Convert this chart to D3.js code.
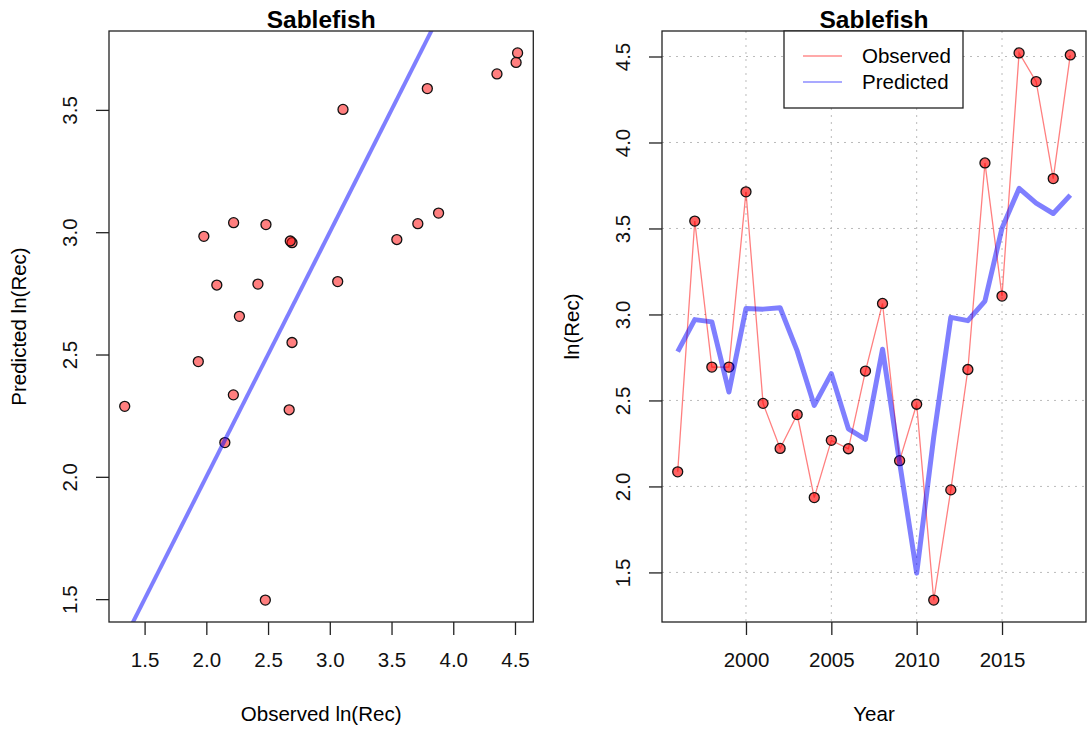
<!DOCTYPE html>
<html>
<head>
<meta charset="utf-8">
<script src="https://cdn.jsdelivr.net/npm/d3@7"></script>
<style>
  body { margin: 0; background: #fff; }
  svg { display: block; font-family: "Liberation Sans", Arial, Helvetica, sans-serif; }
  .tick line { stroke: #222; stroke-width: 1.3; }
  .tick text { fill: #111; font-size: 20.5px; }
</style>
</head>
<body>
<div id="chart"></div>
<script>
// recruitment series
const years = [1996, 1997, 1998, 1999, 2000, 2001, 2002, 2003, 2004, 2005, 2006, 2007,
               2008, 2009, 2010, 2011, 2012, 2013, 2014, 2015, 2016, 2017, 2018, 2019];
const observed = [2.085, 3.543, 2.694, 2.694, 3.713, 2.483, 2.221, 2.418, 1.935, 2.268, 2.219, 2.671,
                  3.064, 2.150, 2.478, 1.339, 1.980, 2.680, 3.881, 3.107, 4.521, 4.354, 3.790, 4.509];
const predicted = [2.784, 2.970, 2.957, 2.549, 3.035, 3.031, 3.039, 2.788, 2.471, 2.656, 2.335, 2.274,
                   2.798, 2.140, 1.496, 2.288, 2.983, 2.964, 3.078, 3.502, 3.733, 3.647, 3.587, 3.694];

const recTicks = [1.5, 2.0, 2.5, 3.0, 3.5, 4.0, 4.5];
const predTicks = [1.5, 2.0, 2.5, 3.0, 3.5];
const yearTicks = [2000, 2005, 2010, 2015];
const seriesNames = ["Observed", "Predicted"];
const title = "Sablefish";

const width = 1089, height = 729;
const data = years.map((y, i) => ({ year: y, obs: observed[i], pred: predicted[i] }));

// R-style axis range: data extent padded by 4%
function rRange(values) {
  const [lo, hi] = d3.extent(values);
  const pad = (hi - lo) * 0.04;
  return [lo - pad, hi + pad];
}

const svg = d3.select("#chart").append("svg")
  .attr("width", width)
  .attr("height", height);

svg.append("rect").attr("width", width).attr("height", height).attr("fill", "#fff");

const redFill = "rgba(255,0,0,0.5)";
const blueLine = "rgba(0,0,255,0.5)";

function drawFrame(g, x0, x1, y0, y1, titleText, xLab, yLab) {
  g.append("rect")
    .attr("x", x0).attr("y", y0)
    .attr("width", x1 - x0).attr("height", y1 - y0)
    .attr("fill", "none").attr("stroke", "#222").attr("stroke-width", 1.3);

  g.append("text")
    .attr("x", (x0 + x1) / 2).attr("y", 28)
    .attr("text-anchor", "middle")
    .style("font-size", "24.5px").style("font-weight", "bold")
    .text(titleText);

  g.append("text")
    .attr("x", (x0 + x1) / 2).attr("y", 721)
    .attr("text-anchor", "middle")
    .style("font-size", "20.5px")
    .text(xLab);

  g.append("text")
    .attr("transform", `translate(${x0 - 83},${(y0 + y1) / 2}) rotate(-90)`)
    .attr("text-anchor", "middle")
    .style("font-size", "20.5px")
    .text(yLab);
}

function drawAxes(g, x, y, xTicks, yTicks, fmtX) {
  const yBottom = d3.max(y.range());
  const xLeft = d3.min(x.range());

  g.append("g")
    .attr("transform", `translate(0,${yBottom})`)
    .call(d3.axisBottom(x).tickValues(xTicks).tickFormat(fmtX).tickSize(13).tickSizeOuter(0).tickPadding(17))
    .call((a) => a.select(".domain").remove());

  g.append("g")
    .attr("transform", `translate(${xLeft},0)`)
    .call(d3.axisLeft(y).tickValues(yTicks).tickFormat(d3.format(".1f")).tickSize(13).tickSizeOuter(0))
    .call((a) => a.select(".domain").remove())
    .call((a) => a.selectAll(".tick text")
      .attr("x", null).attr("dy", null)
      .attr("text-anchor", "middle")
      .attr("transform", "translate(-32,0) rotate(-90)"));
}

// ---- left panel: observed vs predicted ----
{
  const x0 = 109, x1 = 533.3, y0 = 31, y1 = 622;
  const g = svg.append("g");
  const x = d3.scaleLinear().domain(rRange(observed)).range([x0, x1]);
  const y = d3.scaleLinear().domain(rRange(predicted)).range([y1, y0]);

  svg.append("clipPath").attr("id", "clip-left")
    .append("rect").attr("x", x0).attr("y", y0).attr("width", x1 - x0).attr("height", y1 - y0);

  g.selectAll(".pt")
    .data(data)
    .join("circle")
    .attr("class", "pt")
    .attr("cx", (d) => x(d.obs))
    .attr("cy", (d) => y(d.pred))
    .attr("r", 5)
    .attr("fill", redFill)
    .attr("stroke", "#111")
    .attr("stroke-width", 1.3);

  // 1:1 line
  g.append("line")
    .attr("clip-path", "url(#clip-left)")
    .attr("x1", x(0)).attr("y1", y(0))
    .attr("x2", x(6)).attr("y2", y(6))
    .attr("stroke", blueLine)
    .attr("stroke-width", 4);

  drawAxes(g, x, y, recTicks, predTicks, d3.format(".1f"));
  drawFrame(g, x0, x1, y0, y1, title, "Observed ln(Rec)", "Predicted ln(Rec)");
}

// ---- right panel: time series ----
{
  const x0 = 662, x1 = 1086, y0 = 31, y1 = 622;
  const g = svg.append("g");
  const x = d3.scaleLinear().domain(rRange(years)).range([x0, x1]);
  const y = d3.scaleLinear().domain(rRange(observed.concat(predicted))).range([y1, y0]);

  // dotted grid
  g.selectAll(".vgrid")
    .data(yearTicks)
    .join("line")
    .attr("class", "vgrid")
    .attr("x1", (d) => x(d)).attr("x2", (d) => x(d))
    .attr("y1", y0).attr("y2", y1)
    .attr("stroke", "#bbb").attr("stroke-dasharray", "2,5");

  g.selectAll(".hgrid")
    .data(recTicks)
    .join("line")
    .attr("class", "hgrid")
    .attr("x1", x0).attr("x2", x1)
    .attr("y1", (d) => y(d)).attr("y2", (d) => y(d))
    .attr("stroke", "#bbb").attr("stroke-dasharray", "2,5");

  const obsLine = d3.line().x((d) => x(d.year)).y((d) => y(d.obs));
  const predLine = d3.line().x((d) => x(d.year)).y((d) => y(d.pred));

  g.append("path")
    .attr("d", obsLine(data))
    .attr("fill", "none")
    .attr("stroke", "rgba(255,0,0,0.5)")
    .attr("stroke-width", 1.3);

  g.selectAll(".pt")
    .data(data)
    .join("circle")
    .attr("class", "pt")
    .attr("cx", (d) => x(d.year))
    .attr("cy", (d) => y(d.obs))
    .attr("r", 5)
    .attr("fill", "rgba(255,0,0,0.62)")
    .attr("stroke", "#111")
    .attr("stroke-width", 1.3);

  g.append("path")
    .attr("d", predLine(data))
    .attr("fill", "none")
    .attr("stroke", blueLine)
    .attr("stroke-width", 5)
    .attr("stroke-linejoin", "round");

  drawAxes(g, x, y, yearTicks, recTicks, d3.format("d"));
  drawFrame(g, x0, x1, y0, y1, title, "Year", "ln(Rec)");

  // legend
  const lg = g.append("g").attr("transform", "translate(784,31)");
  lg.append("rect")
    .attr("width", 179).attr("height", 77)
    .attr("fill", "#fff").attr("stroke", "#222").attr("stroke-width", 1.3);

  const legendColors = ["rgba(255,0,0,0.45)", "rgba(0,0,255,0.45)"];
  const items = lg.selectAll(".item")
    .data(seriesNames)
    .join("g")
    .attr("class", "item")
    .attr("transform", (d, i) => `translate(0,${25 + i * 26})`);

  items.append("line")
    .attr("x1", 19).attr("x2", 58)
    .attr("stroke", (d, i) => legendColors[i])
    .attr("stroke-width", 1.6);

  items.append("text")
    .attr("x", 78).attr("dy", "0.36em")
    .style("font-size", "20.5px")
    .text((d) => d);
}
</script>
</body>
</html>
